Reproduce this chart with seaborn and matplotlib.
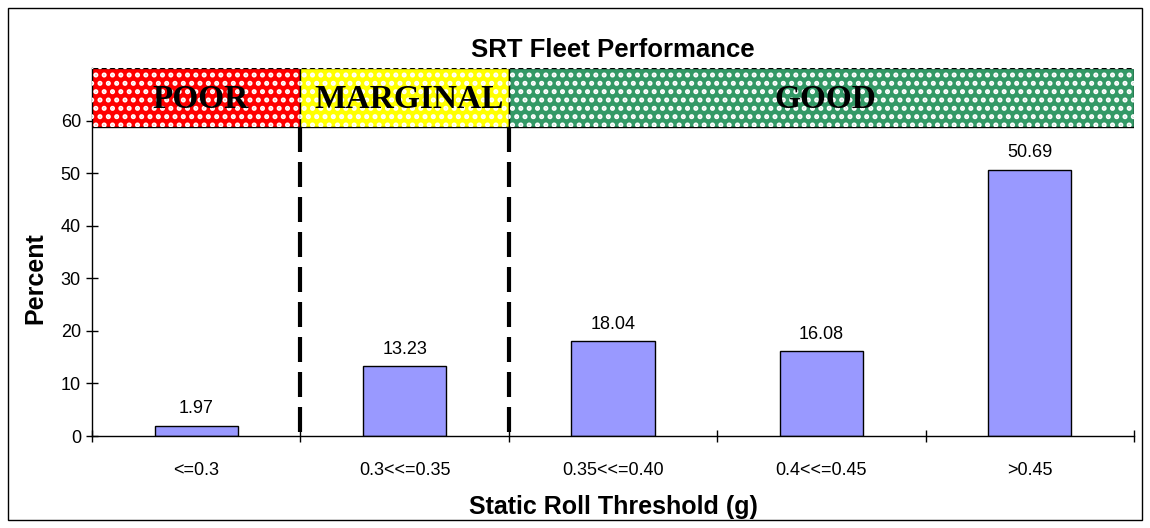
import matplotlib
matplotlib.use('Agg')
import matplotlib.pyplot as plt
from matplotlib.patches import Rectangle
import pandas as pd
import seaborn as sns

categories = ['<=0.3', '0.3<<=0.35', '0.35<<=0.40', '0.4<<=0.45', '>0.45']
percent = [1.97, 13.23, 18.04, 16.08, 50.69]
zones = ['POOR', 'MARGINAL', 'GOOD']
zone_spans = [(-0.5, 0.5), (0.5, 1.5), (1.5, 4.5)]
zone_colors = ['#FF0000', '#FFFF00', '#339966']

df = pd.DataFrame({'srt': categories, 'percent': percent})

sns.set_theme(style='white')
plt.rcParams['font.family'] = ['Liberation Sans', 'DejaVu Sans']
plt.rcParams['hatch.linewidth'] = 2.4
for k in ['text.color', 'axes.labelcolor', 'xtick.color', 'ytick.color']:
    plt.rcParams[k] = 'black'

fig = plt.figure(figsize=(11.5, 5.28), dpi=100)
ax = fig.add_axes([0.08, 0.1742, 0.906, 0.697])

sns.barplot(data=df, x='srt', y='percent', color='#9999FF', saturation=1,
            width=0.4, edgecolor='black', linewidth=1, ax=ax)

for i, v in enumerate(percent):
    ax.annotate(f'{v:.2f}', (i, v), xytext=(0, 6), textcoords='offset points',
                ha='center', va='bottom', fontsize=13)

# performance zones band
band_lo, band_hi = 58.7, 70
for name, (x0, x1), col in zip(zones, zone_spans, zone_colors):
    ax.add_patch(Rectangle((x0, band_lo), x1 - x0, band_hi - band_lo,
                           facecolor=col, edgecolor='black', lw=1, zorder=3))
    ax.add_patch(Rectangle((x0, band_lo), x1 - x0, band_hi - band_lo,
                           facecolor='none', edgecolor='white', hatch='..',
                           lw=0, zorder=3))
    ax.text((x0 + x1) / 2 + 0.02, (band_lo + band_hi) / 2 - 0.3, name,
            ha='center', va='center',
            family=['Liberation Serif', 'DejaVu Serif'], fontweight='bold',
            fontsize=24, zorder=4)

for x0, x1 in zone_spans[:2]:
    ax.plot([x1, x1], [band_lo, 0], color='black', lw=3,
            linestyle=(0, (6, 2.4)), zorder=2)

ax.set_xlim(-0.5, 4.5)
ax.set_ylim(0, 70)
ax.set_yticks(range(0, 61, 10))
ax.set_xticks([i - 0.5 for i in range(6)])
ax.set_xticklabels([])
ax.set_xticks(range(5), minor=True)
ax.set_xticklabels(categories, minor=True, fontsize=13)
ax.tick_params(axis='x', which='major', direction='inout', length=8, width=1, bottom=True)
ax.tick_params(axis='x', which='minor', length=0, pad=19)
ax.tick_params(axis='y', direction='inout', length=8, width=1, left=True, labelsize=13, pad=4)

for s in ['top', 'right']:
    ax.spines[s].set_visible(False)
for s in ['left', 'bottom']:
    ax.spines[s].set_color('black')
    ax.spines[s].set_linewidth(1)

ax.set_xlabel('Static Roll Threshold (g)', fontsize=18, fontweight='bold', labelpad=11)
ax.set_ylabel('Percent', fontsize=18, fontweight='bold')
ax.yaxis.set_label_coords(-0.043, 30 / 70)
ax.set_title('SRT Fleet Performance', fontsize=18.5, fontweight='bold', pad=8)

fig.patches.append(Rectangle((0.007, 0.015), 0.986, 0.97, transform=fig.transFigure,
                             fill=False, edgecolor='black', lw=1))

fig.savefig('out.png', dpi=100)
